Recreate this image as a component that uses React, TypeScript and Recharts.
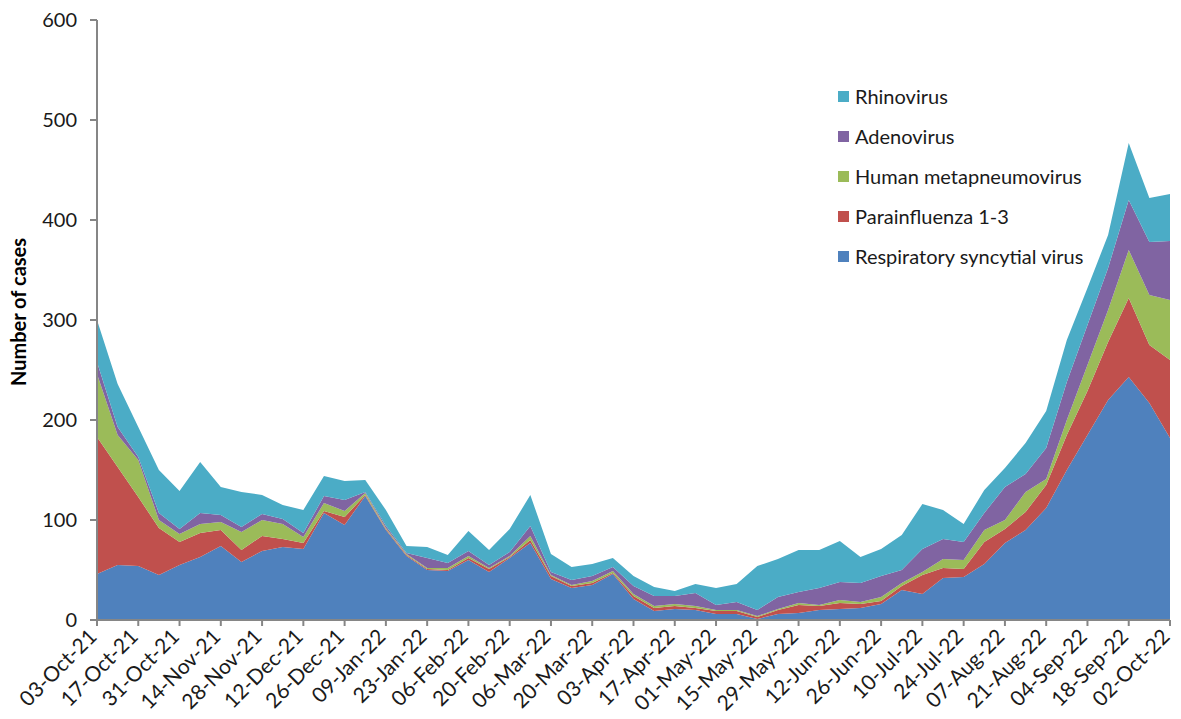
import React from "react";
import { AreaChart, Area, XAxis, YAxis } from "recharts";

const weeks = [
  "03-Oct-21", "10-Oct-21", "17-Oct-21", "24-Oct-21", "31-Oct-21", "07-Nov-21", "14-Nov-21", "21-Nov-21", "28-Nov-21",
  "05-Dec-21", "12-Dec-21", "19-Dec-21", "26-Dec-21", "02-Jan-22", "09-Jan-22", "16-Jan-22", "23-Jan-22", "30-Jan-22",
  "06-Feb-22", "13-Feb-22", "20-Feb-22", "27-Feb-22", "06-Mar-22", "13-Mar-22", "20-Mar-22", "27-Mar-22", "03-Apr-22",
  "10-Apr-22", "17-Apr-22", "24-Apr-22", "01-May-22", "08-May-22", "15-May-22", "22-May-22", "29-May-22", "05-Jun-22",
  "12-Jun-22", "19-Jun-22", "26-Jun-22", "03-Jul-22", "10-Jul-22", "17-Jul-22", "24-Jul-22", "31-Jul-22", "07-Aug-22",
  "14-Aug-22", "21-Aug-22", "28-Aug-22", "04-Sep-22", "11-Sep-22", "18-Sep-22", "25-Sep-22", "02-Oct-22",
];

const rsv = [
  46, 55, 54, 45, 55, 63, 74, 58, 69, 73, 71, 107, 95, 124, 90, 64, 50, 49, 60, 48, 62, 77, 41, 32, 35, 46, 21,
  9, 11, 10, 6, 6, 1, 6, 7, 10, 11, 12, 16, 30, 26, 42, 43, 56, 77, 90, 112, 150, 185, 220, 243, 217, 182,
];
const parainfluenza = [
  137, 98, 69, 47, 23, 24, 16, 12, 15, 8, 6, 2, 8, 1, 1, 1, 1, 1, 2, 3, 1, 3, 3, 2, 2, 1, 3,
  3, 3, 2, 3, 3, 2, 4, 8, 4, 6, 4, 3, 4, 19, 10, 8, 22, 14, 18, 23, 35, 44, 58, 79, 58, 78,
];
const hmpv = [
  63, 32, 37, 8, 8, 9, 8, 18, 16, 15, 6, 8, 6, 2, 1, 1, 1, 2, 2, 1, 1, 4, 1, 1, 2, 2, 2,
  2, 2, 2, 1, 1, 1, 1, 2, 1, 3, 2, 4, 3, 3, 9, 9, 12, 9, 20, 6, 15, 26, 32, 48, 50, 60,
];
const adenovirus = [
  12, 8, 3, 7, 5, 11, 7, 5, 6, 5, 4, 7, 11, 1, 2, 1, 10, 5, 5, 3, 4, 10, 3, 5, 5, 4, 8,
  10, 8, 13, 5, 8, 6, 12, 11, 17, 18, 19, 21, 13, 23, 20, 18, 17, 33, 18, 31, 38, 40, 42, 50, 53, 59,
];
const rhinovirus = [
  42, 43, 30, 43, 38, 51, 28, 35, 19, 14, 23, 20, 19, 12, 16, 7, 11, 8, 20, 15, 23, 31, 18, 13, 12, 9, 10,
  9, 5, 9, 17, 18, 44, 38, 42, 38, 41, 26, 27, 35, 45, 29, 18, 23, 19, 31, 37, 42, 37, 33, 57, 44, 47,
];

const yTicks = [0, 100, 200, 300, 400, 500, 600];

const series = [
  { key: "rsv", name: "Respiratory syncytial virus", color: "#4F81BD", values: rsv },
  { key: "para", name: "Parainfluenza 1-3", color: "#C0504D", values: parainfluenza },
  { key: "hmpv", name: "Human metapneumovirus", color: "#9BBB59", values: hmpv },
  { key: "adeno", name: "Adenovirus", color: "#8064A2", values: adenovirus },
  { key: "rhino", name: "Rhinovirus", color: "#4BACC6", values: rhinovirus },
];

const data = weeks.map((w, i) => {
  const row: Record<string, any> = { week: w };
  series.forEach((s) => {
    row[s.key] = s.values[i];
  });
  return row;
});

const FONT = "Lato, 'Open Sans', sans-serif";

const XTick = (props: any) => {
  const { x, y, payload } = props;
  return (
    <g transform={`translate(${x + 1},${y + 10})`}>
      <text x={0} y={0} textAnchor="end" transform="rotate(-45)" fontFamily={FONT} fontSize={21} fill="#1a1a1a">
        {payload.value}
      </text>
    </g>
  );
};

const YLabel = () => (
  <text
    x={18}
    y={312}
    transform="rotate(-90, 18, 312)"
    textAnchor="middle"
    dominantBaseline="central"
    fontFamily={FONT}
    fontSize={20}
    fontWeight="bold"
    fill="#000"
  >
    Number of cases
  </text>
);

const LegendBox = () => {
  const items = [...series].reverse();
  return (
    <div
      style={{
        position: "absolute",
        left: 838,
        top: 76,
        fontFamily: FONT,
        fontSize: 20,
        color: "#1a1a1a",
      }}
    >
      {items.map((s) => (
        <div key={s.key} style={{ display: "flex", alignItems: "center", height: 40, whiteSpace: "nowrap" }}>
          <span style={{ width: 11, height: 11, background: s.color, display: "inline-block", marginRight: 6 }} />
          <span>{s.name}</span>
        </div>
      ))}
    </div>
  );
};

export default function App() {
  return (
    <div style={{ position: "absolute", left: 0, top: 0, width: 1181, height: 719, background: "#fff" }}>
      <AreaChart width={1181} height={719} data={data} margin={{ top: 20, right: 11, left: 0, bottom: 0 }}>
        <XAxis
          dataKey="week"
          interval={1}
          height={99}
          tick={<XTick />}
          tickSize={6}
          axisLine={{ stroke: "#868686", strokeWidth: 2 }}
          tickLine={{ stroke: "#868686", strokeWidth: 2 }}
        />
        <YAxis
          domain={[0, 600]}
          ticks={yTicks}
          width={97}
          tickSize={7}
          axisLine={{ stroke: "#868686", strokeWidth: 2 }}
          tickLine={{ stroke: "#868686", strokeWidth: 2 }}
          tick={{ fontFamily: FONT, fontSize: 20, fill: "#1a1a1a" }}
          tickMargin={13}
          label={<YLabel />}
        />
        {series.map((s) => (
          <Area
            key={s.key}
            type="linear"
            dataKey={s.key}
            name={s.name}
            stackId="1"
            stroke="none"
            fill={s.color}
            fillOpacity={1}
            isAnimationActive={false}
          />
        ))}
      </AreaChart>
      <LegendBox />
    </div>
  );
}
